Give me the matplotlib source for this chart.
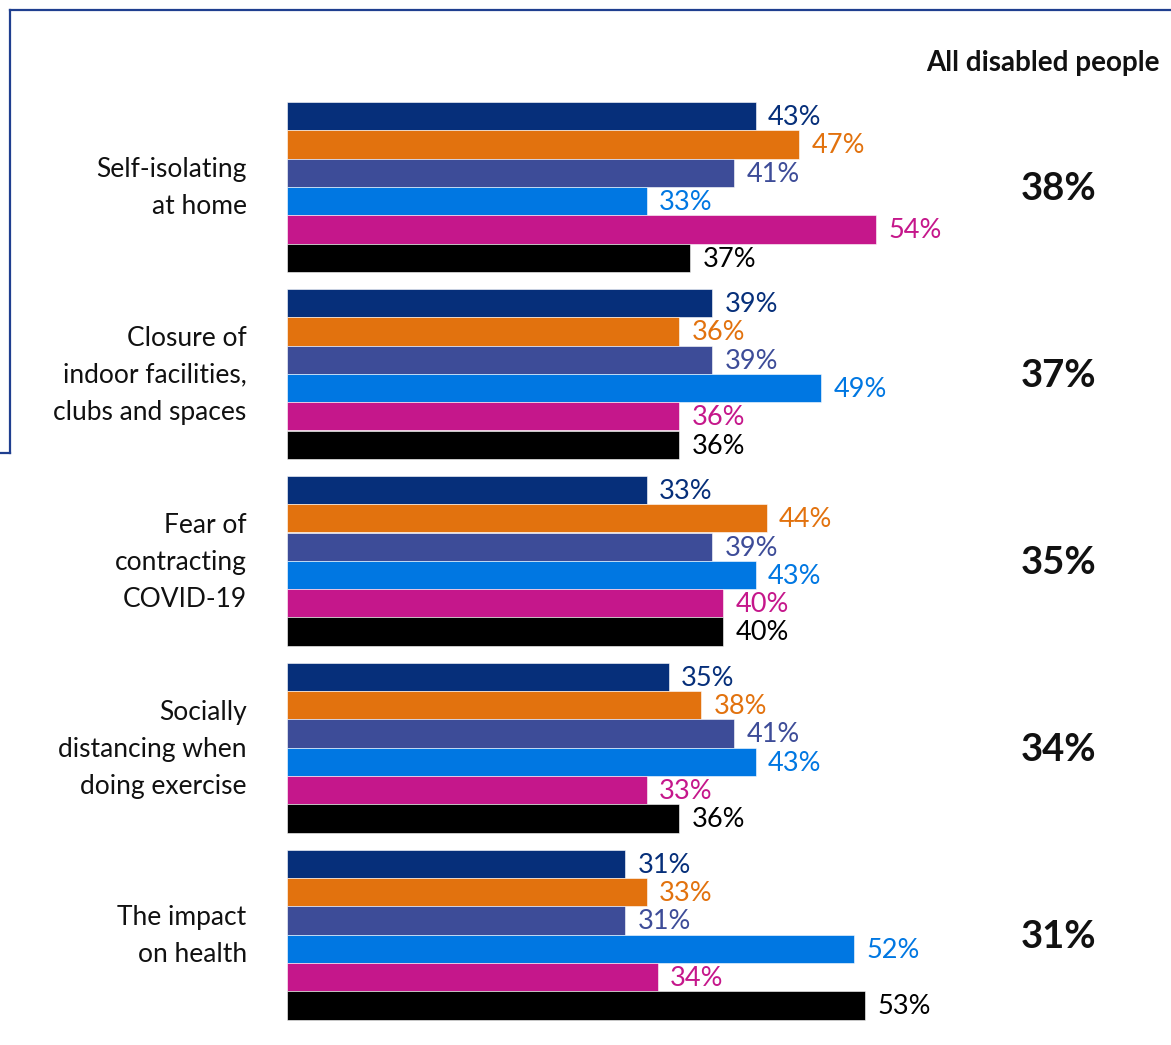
import numpy as np
import matplotlib.pyplot as plt
from matplotlib.lines import Line2D

plt.rcParams['font.family'] = ['Lato', 'DejaVu Sans']

categories = [
    'Self-isolating\nat home',
    'Closure of\nindoor facilities,\nclubs and spaces',
    'Fear of\ncontracting\nCOVID-19',
    'Socially\ndistancing when\ndoing exercise',
    'The impact\non health',
]
series_colors = ['#062F7A', '#E2720E', '#3D4C98', '#0077E2', '#C5178B', '#000000']
values = [
    [43, 47, 41, 33, 54, 37],
    [39, 36, 39, 49, 36, 36],
    [33, 44, 39, 43, 40, 40],
    [35, 38, 41, 43, 33, 36],
    [31, 33, 31, 52, 34, 53],
]
all_disabled = [38, 37, 35, 34, 31]

W, H = 1171, 1045
fig = plt.figure(figsize=(W / 100, H / 100), dpi=100)

# axes starts where bars start; 10.9 px per percent
x0 = 287
ax = fig.add_axes([x0 / W, 0, 1 - x0 / W, 1])
ax.set_xlim(0, (W - x0) / 10.9)
spacing = 186.9
ax.set_ylim((H - 187) / spacing, -187 / spacing)
ax.axis('off')

bh = 28.3 / spacing
for i, vals in enumerate(values):
    for j, v in enumerate(vals):
        y = i - 2.5 * bh + j * bh
        ax.barh(y, v, height=bh, color=series_colors[j], edgecolor='white', linewidth=0.4)
        ax.annotate(f'{v}%', (v, y), xytext=(9, -1), textcoords='offset points',
                    ha='left', va='center', fontsize=19.5, color=series_colors[j])
    ax.annotate(categories[i], (0, i), xytext=(-29, -1), textcoords='offset points',
                ha='right', va='center', fontsize=19, linespacing=1.6, color='#111111')
    fig.text(1059 / W, 1 - (189 + spacing * i) / H, f'{all_disabled[i]}%',
             ha='center', va='center', fontsize=27.5, fontweight='bold', color='#111111')

fig.text(1160 / W, 1 - 63 / H, 'All disabled people', ha='right', va='center',
         fontsize=20, fontweight='bold', color='#111111')

# partial frame in navy
fc = '#1F3F8F'
fig.add_artist(Line2D([10 / W, 1], [1 - 10 / H, 1 - 10 / H], color=fc, lw=1.6))
fig.add_artist(Line2D([10 / W, 10 / W], [1 - 10 / H, 1 - 453 / H], color=fc, lw=1.6))
fig.add_artist(Line2D([0, 10 / W], [1 - 453 / H, 1 - 453 / H], color=fc, lw=1.6))

fig.savefig('out.png', dpi=100)
